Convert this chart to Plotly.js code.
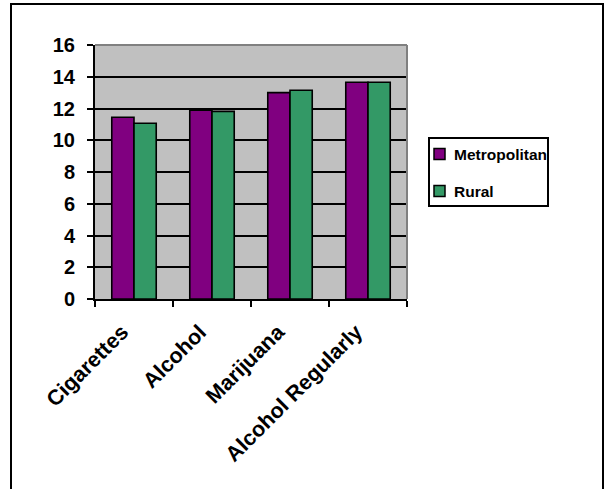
<!DOCTYPE html>
<html>
<head>
<meta charset="utf-8">
<script src="https://cdn.plot.ly/plotly-3.0.1.min.js"></script>
<style>
  html, body { margin: 0; padding: 0; background: #fff; }
  #chart { width: 608px; height: 489px; }
</style>
</head>
<body>
<div id="chart"></div>
<script>
// Substance use: average age of first use, by area type
const categories = ["Cigarettes", "Alcohol", "Marijuana", "Alcohol Regularly"];
const seriesNames = ["Metropolitan", "Rural"];
const metropolitan = [11.45, 11.9, 13.0, 13.65];
const rural = [11.07, 11.82, 13.15, 13.65];
const seriesColors = ["#800080", "#339966"];
const yTicks = [0, 2, 4, 6, 8, 10, 12, 14, 16];

const W = 608, H = 489;
const plotL = 95, plotR = 407, plotT = 45, plotB = 299;
// pixel -> paper coordinate helpers
const px = x => (x - plotL) / (plotR - plotL);
const py = y => (plotB - y) / (plotB - plotT);

const font = "Arial, 'Liberation Sans', sans-serif";

const traces = [metropolitan, rural].map((vals, i) => ({
  type: "bar",
  name: seriesNames[i],
  x: categories,
  y: vals,
  marker: { color: seriesColors[i], line: { color: "#000", width: 1.6 } },
  showlegend: false,
  hoverinfo: "x+y+name"
}));

const shapes = [
  // outer chart frame
  { type: "rect", xref: "paper", yref: "paper", layer: "above",
    x0: px(11), x1: px(603), y0: py(495), y1: py(4),
    line: { color: "#000", width: 2 } },
  // plot area top and right edges
  { type: "line", xref: "paper", yref: "paper", layer: "above",
    x0: 0, x1: 1, y0: 1, y1: 1, line: { color: "#808080", width: 2 } },
  { type: "line", xref: "paper", yref: "paper", layer: "above",
    x0: 1, x1: 1, y0: 0, y1: 1, line: { color: "#808080", width: 2 } },
  // legend frame
  { type: "rect", xref: "paper", yref: "paper", layer: "above",
    x0: px(429), x1: px(548), y0: py(206), y1: py(138),
    fillcolor: "#fff", line: { color: "#000", width: 2 } }
];

const annotations = [];
const legendRows = [154, 191];
seriesNames.forEach((name, i) => {
  const cy = legendRows[i];
  shapes.push({ type: "rect", xref: "paper", yref: "paper", layer: "above",
    x0: px(434), x1: px(445), y0: py(cy + 5.5), y1: py(cy - 5.5),
    fillcolor: seriesColors[i], line: { color: "#000", width: 1.5 } });
  annotations.push({ xref: "paper", yref: "paper", x: px(452), y: py(cy),
    xanchor: "left", yanchor: "middle", showarrow: false, text: "<b>" + name + "</b>",
    font: { family: font, size: 15.5, color: "#000" } });
});

const layout = {
  width: W, height: H,
  margin: { l: plotL, r: W - plotR, t: plotT, b: H - plotB, pad: 0 },
  paper_bgcolor: "#fff",
  plot_bgcolor: "#c0c0c0",
  barmode: "group",
  bargap: 0.43,
  bargroupgap: 0,
  showlegend: false,
  font: { family: font, color: "#000" },
  xaxis: {
    type: "category",
    tickangle: -45,
    tickson: "boundaries",
    ticks: "outside", ticklen: 6, tickwidth: 2, tickcolor: "#000",
    showline: true, linecolor: "#000", linewidth: 2,
    showgrid: false,
    ticktext: categories.map(c => "<b>" + c + "</b>"),
    tickvals: categories,
    ticklabelstandoff: 10,
    ticklabelshift: -12,
    tickfont: { family: font, size: 21.5, color: "#000" },
    fixedrange: true
  },
  yaxis: {
    range: [0, 16],
    tickvals: yTicks,
    ticktext: yTicks.map(v => "<b>" + v + "</b>"),
    ticks: "outside", ticklen: 6, tickwidth: 2, tickcolor: "#000",
    showline: true, linecolor: "#000", linewidth: 2,
    showgrid: true, gridcolor: "#000", gridwidth: 2,
    zeroline: false,
    ticklabelstandoff: 8,
    tickfont: { family: font, size: 20, color: "#000" },
    fixedrange: true
  },
  shapes: shapes,
  annotations: annotations
};

Plotly.newPlot("chart", traces, layout, { displayModeBar: false, staticPlot: true });
</script>
</body>
</html>
